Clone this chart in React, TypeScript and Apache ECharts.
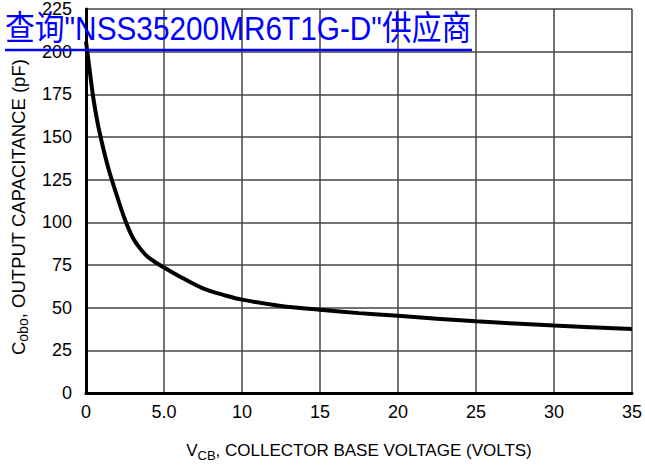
import React, { useEffect, useRef } from "react";
import * as echarts from "echarts";

const voltage = [0, 0.25, 0.5, 0.75, 1.0, 1.25, 1.5, 2.0, 2.5, 3.0, 3.5, 4.0, 5.0, 6.0, 7.5, 9.0, 10, 12.5, 15, 17.5, 20, 25, 30, 35];
const capacitance = [206, 188, 171, 158, 147.5, 138, 129.5, 115, 101.5, 91, 84.3, 79.5, 73.5, 68.3, 61.3, 57, 54.7, 51, 48.8, 46.8, 45.2, 42, 39.5, 37.5];
const xTickLabels: Record<number, string> = { 0: "0", 5: "5.0", 10: "10", 15: "15", 20: "20", 25: "25", 30: "30", 35: "35" };
const titleText = '查询"NSS35200MR6T1G-D"供应商';

const FONT = '"Liberation Sans Narrow", "Arial Narrow", "Liberation Sans", Arial, sans-serif';

export default function App() {
  const ref = useRef<HTMLDivElement>(null);
  useEffect(() => {
    if (!ref.current) return;
    const chart = echarts.init(ref.current, null, { renderer: "svg" });
    const makeRich = (main: number, sub: number) => ({
      a: { fontSize: main, fontFamily: FONT, color: "#000", lineHeight: 24, verticalAlign: "middle" },
      b: { fontSize: sub, fontFamily: FONT, color: "#000", lineHeight: 24, verticalAlign: "bottom", padding: [6, 0, 0, 0] },
    });
    chart.setOption({
      animation: false,
      backgroundColor: "#ffffff",
      grid: { left: 86, right: 13, top: 9, bottom: 80, containLabel: false },
      xAxis: {
        type: "value",
        min: 0,
        max: 35,
        interval: 5,
        axisLine: { show: true, onZero: false, lineStyle: { color: "#000", width: 3 } },
        axisTick: { show: false },
        axisLabel: {
          margin: 10,
          color: "#000",
          fontSize: 18,
          fontFamily: FONT,
          formatter: (v: number) => xTickLabels[v] ?? String(v),
        },
        splitLine: { show: true, lineStyle: { color: "#444", width: 1.5 } },
        name: "{a|V}{b|CB}{a|, COLLECTOR BASE VOLTAGE (VOLTS)}",
        nameLocation: "middle",
        nameGap: 45,
        nameTextStyle: { color: "#000", fontFamily: FONT, rich: makeRich(17, 13) },
      },
      yAxis: {
        type: "value",
        min: 0,
        max: 225,
        interval: 25,
        axisLine: { show: true, onZero: false, lineStyle: { color: "#000", width: 3 } },
        axisTick: { show: false },
        axisLabel: { margin: 14, color: "#000", fontSize: 18, fontFamily: FONT },
        splitLine: { show: true, lineStyle: { color: "#444", width: 1.5 } },
        name: "{a|C}{b|obo}{a|, OUTPUT CAPACITANCE (pF)}",
        nameLocation: "middle",
        nameRotate: 90,
        nameGap: 56,
        nameTextStyle: { color: "#000", fontFamily: FONT, padding: [0, 12, 0, 0], rich: makeRich(18.5, 14) },
      },
      series: [
        {
          type: "line",
          data: voltage.map((v, i) => [v, capacitance[i]]),
          smooth: 0.35,
          showSymbol: false,
          symbol: "none",
          lineStyle: { color: "#000", width: 4 },
          z: 5,
        },
      ],
      graphic: [
        {
          type: "text",
          x: 5,
          y: 28,
          scaleX: 0.876,
          z: 100,
          style: {
            x: 0,
            y: 0,
            text: titleText,
            fill: "#0000ff",
            fontSize: 34,
            verticalAlign: "middle",
            fontFamily: '"Liberation Sans", Arial, "Noto Sans CJK SC", sans-serif',
          },
        },
        {
          type: "line",
          z: 100,
          shape: { x1: 5, y1: 50, x2: 472, y2: 50 },
          style: { stroke: "#0000ff", lineWidth: 2.5 },
        },
      ],
    });
    return () => chart.dispose();
  }, []);
  return <div ref={ref} style={{ width: 645, height: 473, position: "absolute", left: 0, top: 0 }} />;
}
